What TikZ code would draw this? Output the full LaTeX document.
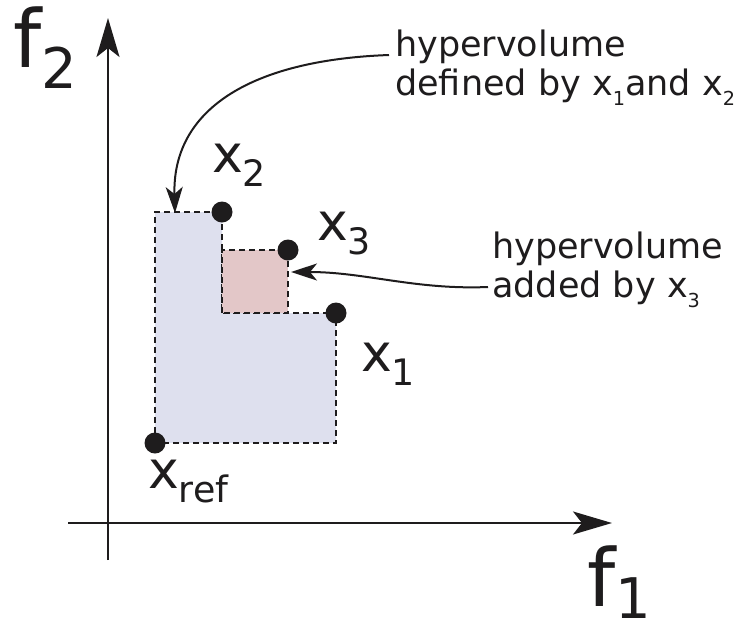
\documentclass[tikz,border=0pt]{standalone}
\usepackage{fontspec}
\setmainfont{DejaVu Sans}
\usetikzlibrary{arrows.meta}
\definecolor{ink}{RGB}{30,28,29}
\definecolor{hvblue}{RGB}{222,224,238}
\definecolor{hvred}{RGB}{227,199,200}
\tikzset{
  axis/.style={line width=2pt,draw=ink,-{Stealth[length=39pt,width=23pt,inset=9pt]}},
  callout/.style={line width=2pt,draw=ink,-{Stealth[length=26pt,width=17pt,inset=7pt]}},
  region/.style={draw=ink,line width=1.4pt,dash pattern=on 6pt off 4pt},
  dot/.style={circle,fill=ink,inner sep=0pt,minimum size=21pt},
  ptlbl/.style={anchor=base west,inner sep=0pt,text=ink,font=\fontsize{52}{52}\selectfont},
  axlbl/.style={anchor=base west,inner sep=0pt,text=ink,font=\fontsize{80}{80}\selectfont},
  note/.style={anchor=base west,inner sep=0pt,text=ink,align=left,
    font=\fontsize{35}{38.5}\selectfont},
}
\newcommand{\lo}[1]{\raisebox{-0.27em}{\scalebox{0.7}{#1}}}
\newcommand{\ls}[1]{\raisebox{-0.3em}{\scalebox{0.55}{#1}}}

\begin{document}
\begin{tikzpicture}[x=1pt,y=-1pt]
\useasboundingbox (0,0) rectangle (753,630);
% axes
\coordinate (o1) at (68,523);  \coordinate (e1) at (612,523);
\coordinate (o2) at (108,560); \coordinate (e2) at (108,18);
\draw[axis] (o1) -- (e1);
\draw[axis] (o2) -- (e2);
\node[axlbl] (f2) at (13,67) {f\lo{2}};
\node[axlbl] (f1) at (587,606) {f\raisebox{-0.15em}{\scalebox{0.7}{1}}};
% points
\coordinate (pref) at (155,443);
\coordinate (p1) at (336,313);
\coordinate (p2) at (222,212);
\coordinate (p3) at (288,250);
% dominated regions
\path[region,fill=hvblue] (pref) |- (p2) |- (p1) |- cycle;
\path[region,fill=hvred] (p2 |- p1) rectangle (p3);
\node[dot] (dref) at (pref) {};
\node[dot] (d1) at (p1) {};
\node[dot] (d2) at (p2) {};
\node[dot] (d3) at (p3) {};
\node[ptlbl] (lref) at (148,488) {x\lo{ref}};
\node[ptlbl] (l1) at (361,371) {x\lo{1}};
\node[ptlbl] (l2) at (212,172) {x\lo{2}};
\node[ptlbl] (l3) at (317,240) {x\lo{3}};
% annotations
\node[note] (n1) at (395,95) {hypervolume\\defined by x\ls{1}and x\ls{2}};
\node[note] (n2) at (492,297) {hypervolume\\added by x\ls{3}};
\coordinate (c1) at (175,213);
\coordinate (c2) at (291,272);
\draw[callout] ([xshift=-6pt,yshift=40pt]n1.base west) .. controls (250,60) and (172,110) .. (c1);
\draw[callout] ([xshift=-4pt,yshift=10pt]n2.base west) .. controls (415,290) and (365,272) .. (c2);
\end{tikzpicture}
\end{document}
